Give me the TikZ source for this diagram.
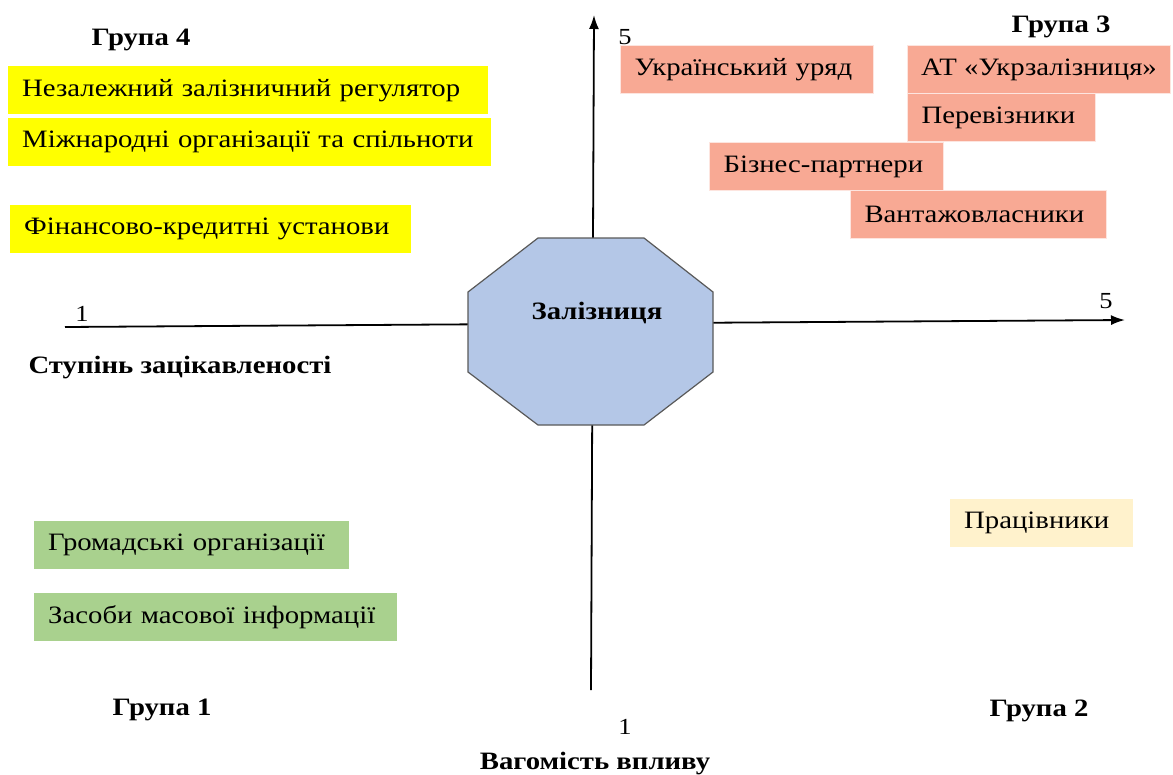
\documentclass[tikz,border=0pt]{standalone}
\usepackage{fontspec}
\setmainfont[FakeStretch=1.15]{Liberation Serif}
\usetikzlibrary{arrows.meta}
\definecolor{grpyellow}{RGB}{255,255,0}
\definecolor{grpsalmon}{RGB}{248,169,148}
\definecolor{grpgreen}{RGB}{169,209,142}
\definecolor{grppeach}{RGB}{255,242,204}
\definecolor{octblue}{RGB}{180,199,231}
\definecolor{octedge}{RGB}{89,89,89}
\tikzset{
  box/.style={anchor=north west,minimum height=48pt,inner xsep=14pt,inner ysep=0pt,
    align=left,font=\fontsize{25}{29}\selectfont},
  ybox/.style={box,fill=grpyellow},
  sbox/.style={box,fill=grpsalmon,draw=grpsalmon!30,line width=1pt},
  gbox/.style={box,fill=grpgreen},
  pbox/.style={box,fill=grppeach},
  grplabel/.style={font=\bfseries\fontsize{25}{29}\selectfont},
  tick/.style={font=\fontsize{23}{27}\selectfont},
  axis/.style={line width=1.8pt,-{Latex[length=14pt,width=10pt]}}
}
\begin{document}
\begin{tikzpicture}[x=1pt,y=-1pt]
\useasboundingbox (0,0) rectangle (1173,774);
% axes
\coordinate (xs) at (65,327); \coordinate (xe) at (1125,320);
\coordinate (ys) at (591,690); \coordinate (ye) at (594,15);
\draw[axis] (xs) -- (xe);
\draw[axis] (ys) -- (ye);
% centre
\draw[fill=octblue,draw=octedge,line width=1.2pt]
  (538,238) -- (644,238) -- (713,292) -- (713,372) -- (644,425)
  -- (538,425) -- (468,372) -- (468,292) -- cycle;
\node[grplabel] (rail) at (597,313) {Залізниця};
% scale marks
\node[tick] (ytop) at (625,37) {5};
\node[tick] (xright) at (1106,301) {5};
\node[tick] (xleft) at (82,314) {1};
\node[tick] (ybot) at (625,727) {1};
% axis titles
\node[grplabel] (xname) at (180,368) {Ступінь зацікавленості};
\node[grplabel] (yname) at (595,764) {Вагомість впливу};
% group titles
\node[grplabel] (g4) at (141,40) {Група 4};
\node[grplabel] (g3) at (1061,27) {Група 3};
\node[grplabel] (g1) at (162,710) {Група 1};
\node[grplabel] (g2) at (1039,711) {Група 2};
% group 4
\node[ybox,text width=452pt] (regul) at (8,66) {Незалежний залізничний регулятор};
\node[ybox,text width=455pt] (intorg) at (8,118) {Міжнародні організації та спільноти};
\node[ybox,text width=373pt] (finance) at (10,205) {Фінансово-кредитні установи};
% group 3
\node[sbox,text width=225pt] (govern) at (620,45) {Український уряд};
\node[sbox,inner xsep=2pt,minimum width=263pt] (uz) at (907,45) {АТ «Укрзалізниця»};
\node[sbox,text width=160pt] (carrier) at (907,93) {Перевізники};
\node[sbox,text width=206pt] (partner) at (709,142) {Бізнес-партнери};
\node[sbox,text width=228pt] (owner) at (850,190) {Вантажовласники};
% group 2
\node[pbox,text width=155pt] (staff) at (950,499) {Працівники};
% group 1
\node[gbox,text width=287pt] (public) at (34,521) {Громадські організації};
\node[gbox,text width=335pt] (media) at (34,593) {Засоби масової інформації};
\end{tikzpicture}
\end{document}
